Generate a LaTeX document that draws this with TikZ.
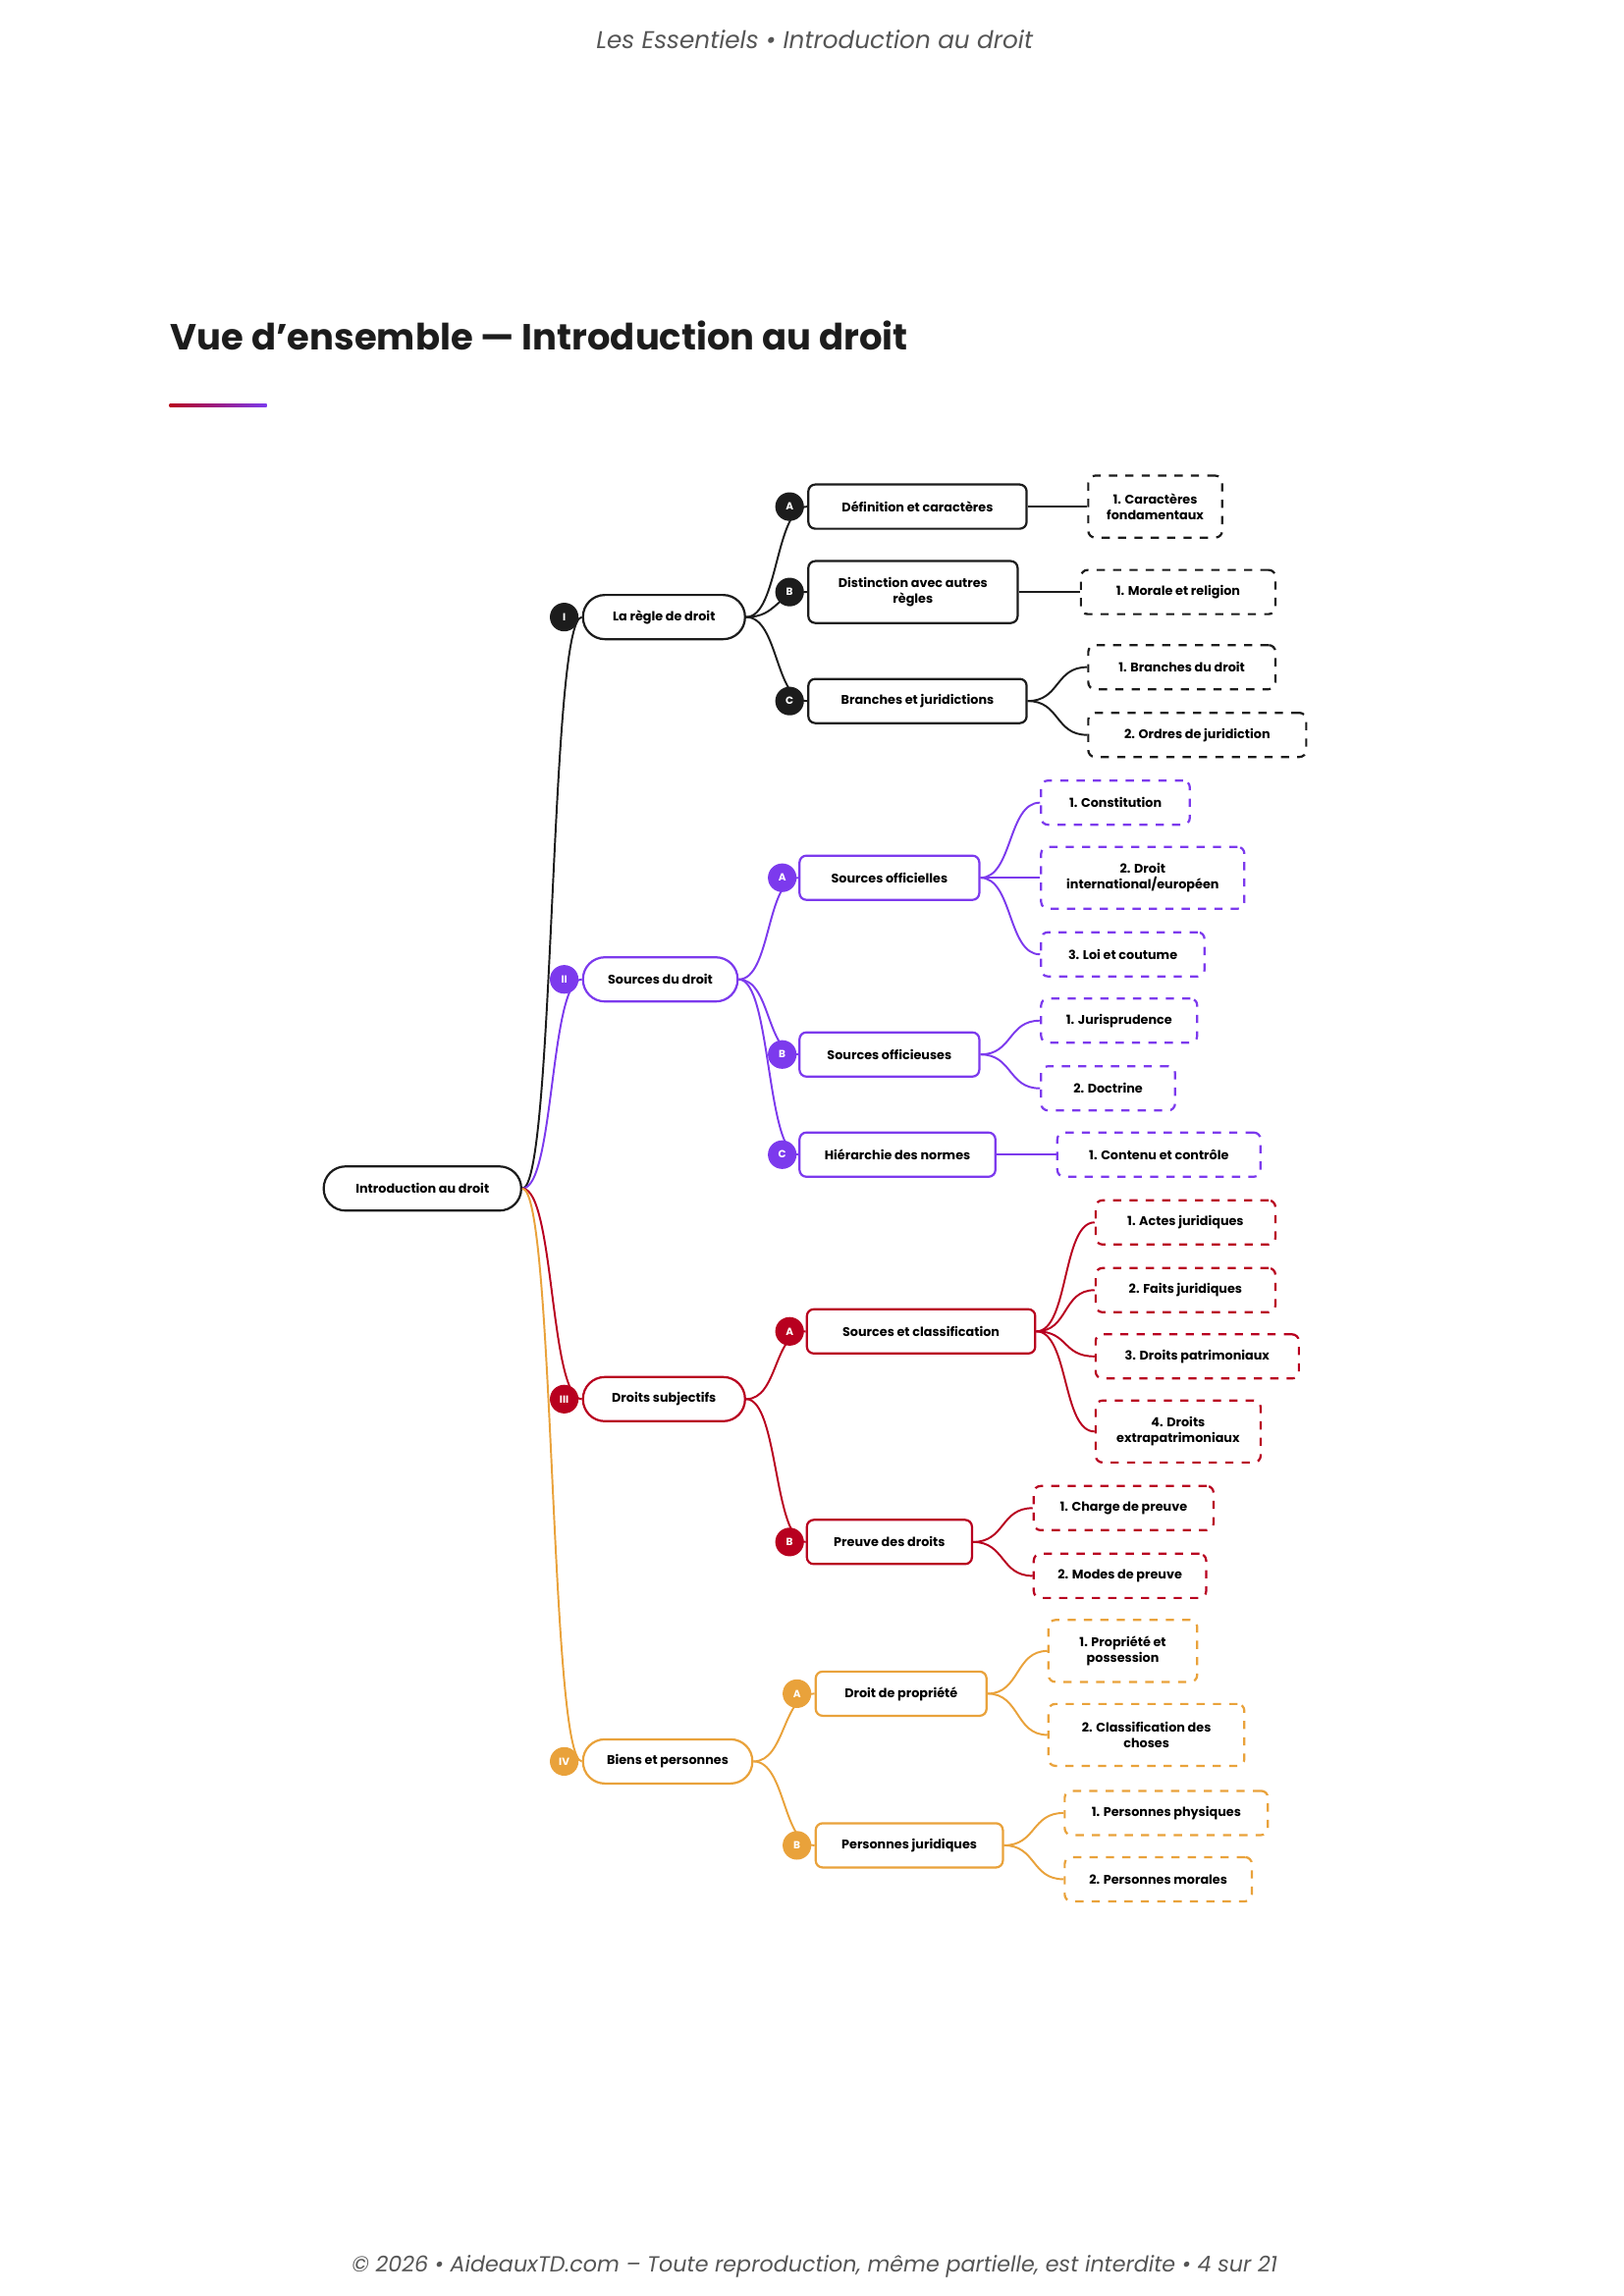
\documentclass[tikz,border=0pt]{standalone}
\usepackage{fontspec}
\setmainfont{Poppins}
\usetikzlibrary{positioning}
\definecolor{mmBlack} {HTML}{1C1C1C}
\definecolor{mmPurple}{HTML}{7C3AED}
\definecolor{mmRed}   {HTML}{B8001F}
\definecolor{mmOrange}{HTML}{E9A23B}
\definecolor{mmGray}  {HTML}{555555}
\begin{document}
\begin{tikzpicture}
[x=0.54pt, y=-0.54pt, line width=0.8pt,
 every node/.style={font=\fontsize{4.6}{5.8}\selectfont\bfseries, align=center},
 root/.style={draw=mmBlack, rounded corners=8pt, minimum height=16.2pt, anchor=west, inner sep=1pt},
 lvone/.style={draw=#1, rounded corners=8pt, minimum height=16.2pt, anchor=west, inner sep=1pt},
 lvtwo/.style={draw=#1, rounded corners=2.5pt, minimum height=16.2pt, anchor=west, inner sep=1pt},
 lvthree/.style={draw=#1, dashed, rounded corners=2.5pt, minimum height=16.2pt, anchor=west, inner sep=1pt},
 badge/.style={circle, fill=#1, text=white, minimum size=10.5pt, inner sep=0pt, font=\fontsize{3.8}{4}\selectfont\bfseries},
 link/.style={draw=#1, line width=0.7pt}]

\useasboundingbox (0,0) rectangle (1102,1559);

% Header, title and footer:
\node[font=\fontsize{8.9}{10}\selectfont\itshape, text=mmGray] (head) at (553,27) {Les Essentiels • Introduction au droit};
\node[font=\fontsize{13.3}{16}\selectfont\bfseries, text=mmBlack, anchor=west, inner sep=0pt] (title) at (115,228) {Vue d'ensemble — Introduction au droit};
\shade[left color=mmRed, right color=mmPurple] (115,274) rectangle (181,276.5);
\node[font=\fontsize{8}{10}\selectfont\itshape, text=mmGray] (foot) at (553,1539) {© 2026 • AideauxTD.com – Toute reproduction, même partielle, est interdite • 4 sur 21};

% Root:
\node[root, minimum width=72.4pt] (root) at (219,807) {Introduction au droit};

% Level one:
\node[lvone=mmBlack,  minimum width=59.4pt] (ri)   at (395,419)  {La règle de droit};
\node[lvone=mmPurple, minimum width=56.7pt] (rii)  at (395,665)  {Sources du droit};
\node[lvone=mmRed,    minimum width=59.4pt] (riii) at (395,950)  {Droits subjectifs};
\node[lvone=mmOrange, minimum width=62.1pt] (riv)  at (395,1196) {Biens et personnes};

% Level two:
\node[lvtwo=mmBlack,  minimum width=80pt]   (ia)   at (548,344)  {Définition et caractères};
\node[lvtwo=mmBlack,  minimum width=76.7pt, minimum height=22.7pt] (ib) at (548,402) {Distinction avec autres\\règles};
\node[lvtwo=mmBlack,  minimum width=80pt]   (ic)   at (548,476)  {Branches et juridictions};
\node[lvtwo=mmPurple, minimum width=65.9pt] (iia)  at (542,596)  {Sources officielles};
\node[lvtwo=mmPurple, minimum width=65.9pt] (iib)  at (542,716)  {Sources officieuses};
\node[lvtwo=mmPurple, minimum width=71.8pt] (iic)  at (542,784)  {Hiérarchie des normes};
\node[lvtwo=mmRed,    minimum width=83.7pt] (iiia) at (547,904)  {Sources et classification};
\node[lvtwo=mmRed,    minimum width=60.5pt] (iiib) at (547,1047) {Preuve des droits};
\node[lvtwo=mmOrange, minimum width=62.6pt] (iva)  at (553,1150) {Droit de propriété};
\node[lvtwo=mmOrange, minimum width=68.6pt] (ivb)  at (553,1253) {Personnes juridiques};

% Level three:
\node[lvthree=mmBlack,  minimum width=49.1pt, minimum height=22.7pt] (ia1) at (738,344) {1. Caractères\\fondamentaux};
\node[lvthree=mmBlack,  minimum width=71.3pt] (ib1) at (733,402) {1. Morale et religion};
\node[lvthree=mmBlack,  minimum width=68.6pt] (ic1) at (738,453) {1. Branches du droit};
\node[lvthree=mmBlack,  minimum width=79.9pt] (ic2) at (738,499) {2. Ordres de juridiction};
\node[lvthree=mmPurple, minimum width=54.5pt] (iia1) at (706,545) {1. Constitution};
\node[lvthree=mmPurple, minimum width=74.5pt, minimum height=22.7pt] (iia2) at (706,596) {2. Droit\\international/européen};
\node[lvthree=mmPurple, minimum width=59.9pt] (iia3) at (706,648) {3. Loi et coutume};
\node[lvthree=mmPurple, minimum width=57.2pt] (iib1) at (706,693) {1. Jurisprudence};
\node[lvthree=mmPurple, minimum width=49.1pt] (iib2) at (706,739) {2. Doctrine};
\node[lvthree=mmPurple, minimum width=74.5pt] (iic1) at (717,784) {1. Contenu et contrôle};
\node[lvthree=mmRed,    minimum width=65.9pt] (iiia1) at (743,830) {1. Actes juridiques};
\node[lvthree=mmRed,    minimum width=65.9pt] (iiia2) at (743,876) {2. Faits juridiques};
\node[lvthree=mmRed,    minimum width=74.5pt] (iiia3) at (743,921) {3. Droits patrimoniaux};
\node[lvthree=mmRed,    minimum width=60.5pt, minimum height=22.7pt] (iiia4) at (743,972) {4. Droits\\extrapatrimoniaux};
\node[lvthree=mmRed,    minimum width=65.9pt] (iiib1) at (701,1024) {1. Charge de preuve};
\node[lvthree=mmRed,    minimum width=63.2pt] (iiib2) at (701,1070) {2. Modes de preuve};
\node[lvthree=mmOrange, minimum width=54.5pt, minimum height=22.7pt] (iva1) at (711,1121) {1. Propriété et\\possession};
\node[lvthree=mmOrange, minimum width=71.8pt, minimum height=22.7pt] (iva2) at (711,1178) {2. Classification des\\choses};
\node[lvthree=mmOrange, minimum width=74.5pt] (ivb1) at (722,1231) {1. Personnes physiques};
\node[lvthree=mmOrange, minimum width=68.6pt] (ivb2) at (722,1276) {2. Personnes morales};

% Connectors:
\foreach \p/\c/\col in {root/ri/mmBlack, root/rii/mmPurple, root/riii/mmRed, root/riv/mmOrange,
  ri/ia/mmBlack, ri/ib/mmBlack, ri/ic/mmBlack, rii/iia/mmPurple, rii/iib/mmPurple, rii/iic/mmPurple,
  riii/iiia/mmRed, riii/iiib/mmRed, riv/iva/mmOrange, riv/ivb/mmOrange,
  ia/ia1/mmBlack, ib/ib1/mmBlack, ic/ic1/mmBlack, ic/ic2/mmBlack,
  iia/iia1/mmPurple, iia/iia2/mmPurple, iia/iia3/mmPurple, iib/iib1/mmPurple, iib/iib2/mmPurple, iic/iic1/mmPurple,
  iiia/iiia1/mmRed, iiia/iiia2/mmRed, iiia/iiia3/mmRed, iiia/iiia4/mmRed, iiib/iiib1/mmRed, iiib/iiib2/mmRed,
  iva/iva1/mmOrange, iva/iva2/mmOrange, ivb/ivb1/mmOrange, ivb/ivb2/mmOrange}
  \draw[link=\col] (\p.east) .. controls +(22,0) and +(-22,0) .. (\c.west);

% Badges:
\node[badge=mmBlack]  (bi)   at (383,419)  {I};
\node[badge=mmPurple] (bii)  at (383,665)  {II};
\node[badge=mmRed]    (biii) at (383,950)  {III};
\node[badge=mmOrange] (biv)  at (383,1196) {IV};
\node[badge=mmBlack]  (bia)  at (536,344)  {A};
\node[badge=mmBlack]  (bib)  at (536,402)  {B};
\node[badge=mmBlack]  (bic)  at (536,476)  {C};
\node[badge=mmPurple] (biia) at (531,596)  {A};
\node[badge=mmPurple] (biib) at (531,716)  {B};
\node[badge=mmPurple] (biic) at (531,784)  {C};
\node[badge=mmRed]    (biiia) at (536,904) {A};
\node[badge=mmRed]    (biiib) at (536,1047) {B};
\node[badge=mmOrange] (biva) at (541,1150) {A};
\node[badge=mmOrange] (bivb) at (541,1253) {B};

\end{tikzpicture}
\end{document}
